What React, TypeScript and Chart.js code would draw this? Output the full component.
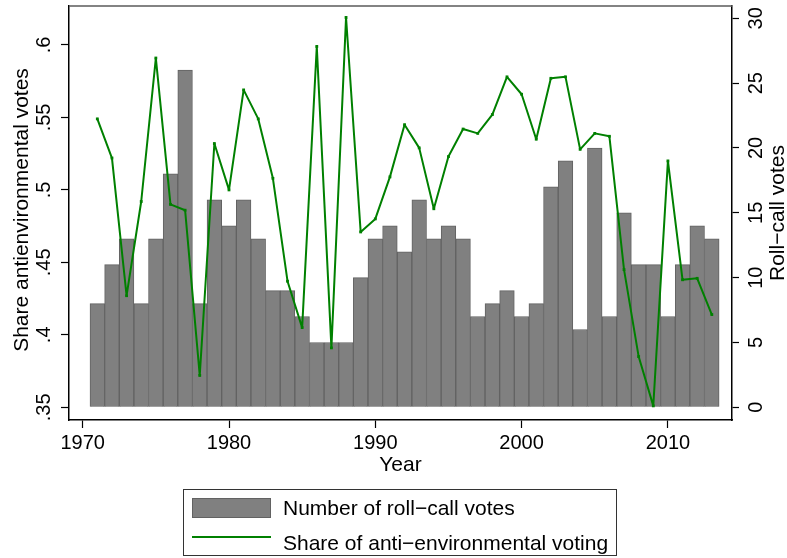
import React, { useEffect, useRef } from 'react';
import { Chart, registerables } from 'chart.js';

Chart.register(...registerables);

// ---------- data ----------
const years = [
  1971, 1972, 1973, 1974, 1975, 1976, 1977, 1978, 1979, 1980,
  1981, 1982, 1983, 1984, 1985, 1986, 1987, 1988, 1989, 1990,
  1991, 1992, 1993, 1994, 1995, 1996, 1997, 1998, 1999, 2000,
  2001, 2002, 2003, 2004, 2005, 2006, 2007, 2008, 2009, 2010,
  2011, 2012, 2013,
];

const rollCallVotes = [
  8, 11, 13, 8, 13, 18, 26, 8, 16, 14,
  16, 13, 9, 9, 7, 5, 5, 5, 10, 13,
  14, 12, 16, 13, 14, 13, 7, 8, 9, 7,
  8, 17, 19, 6, 20, 7, 15, 11, 11, 7,
  11, 14, 13,
];

const antiEnvShare = [
  0.549, 0.522, 0.427, 0.492, 0.591, 0.490, 0.486, 0.372, 0.532, 0.500,
  0.569, 0.549, 0.508, 0.437, 0.405, 0.599, 0.391, 0.619, 0.471, 0.480,
  0.509, 0.545, 0.529, 0.487, 0.523, 0.542, 0.539, 0.552, 0.578, 0.566,
  0.535, 0.577, 0.578, 0.528, 0.539, 0.537, 0.445, 0.385, 0.351, 0.520,
  0.438, 0.439, 0.414,
];

const leftTicks = [0.35, 0.4, 0.45, 0.5, 0.55, 0.6];
const rightTicks = [0, 5, 10, 15, 20, 25, 30];
const xTicks = [1970, 1980, 1990, 2000, 2010];

const barLabel = 'Number of roll\u2212call votes';
const lineLabel = 'Share of anti\u2212environmental voting';
const leftTitle = 'Share antienvironmental votes';
const rightTitle = 'Roll\u2212call votes';
const xTitle = 'Year';

const FONT = '"Liberation Sans", Arial, Helvetica, sans-serif';

const fmtShare = (v: number) => String(v).replace(/^0/, '');

const decorPlugin = {
  id: 'decor',
  afterDraw(chart: any) {
    const ctx = chart.ctx as CanvasRenderingContext2D;
    const { left, right, top } = chart.chartArea;
    const ys = chart.scales.y;
    const y1 = chart.scales.y1;
    ctx.save();

    // top frame line
    ctx.strokeStyle = '#5a5a5a';
    ctx.lineWidth = 1.5;
    ctx.beginPath();
    ctx.moveTo(left, top);
    ctx.lineTo(right, top);
    ctx.stroke();

    // rotated y tick labels
    ctx.fillStyle = '#000';
    ctx.textAlign = 'center';
    ctx.textBaseline = 'alphabetic';
    ctx.font = `20px ${FONT}`;
    ys.ticks.forEach((t: any) => {
      const py = ys.getPixelForValue(t.value);
      ctx.save();
      ctx.translate(ys.right - 19, py);
      ctx.rotate(-Math.PI / 2);
      ctx.fillText(fmtShare(t.value), 0, 0);
      ctx.restore();
    });
    y1.ticks.forEach((t: any) => {
      const py = y1.getPixelForValue(t.value);
      ctx.save();
      ctx.translate(y1.left + 30, py);
      ctx.rotate(-Math.PI / 2);
      ctx.fillText(String(t.value), 0, 0);
      ctx.restore();
    });

    // axis titles (both read bottom-to-top)
    const midY = (chart.chartArea.top + chart.chartArea.bottom) / 2;
    ctx.font = `21px ${FONT}`;
    ctx.save();
    ctx.translate(28, midY - 3);
    ctx.rotate(-Math.PI / 2);
    ctx.fillText(leftTitle, 0, 0);
    ctx.restore();
    ctx.save();
    ctx.translate(y1.left + 52, midY);
    ctx.rotate(-Math.PI / 2);
    ctx.fillText(rightTitle, 0, 0);
    ctx.restore();

    // legend box
    const ds = chart.data.datasets;
    ctx.strokeStyle = '#333';
    ctx.lineWidth = 1;
    ctx.strokeRect(183.5, 489.5, 433, 66);
    // bar swatch
    ctx.fillStyle = ds[0].backgroundColor;
    ctx.fillRect(192, 498, 79, 20);
    ctx.strokeStyle = ds[0].borderColor;
    ctx.strokeRect(192.5, 498.5, 78, 19);
    // line swatch
    ctx.strokeStyle = ds[1].borderColor;
    ctx.lineWidth = 2;
    ctx.beginPath();
    ctx.moveTo(192, 537);
    ctx.lineTo(271, 537);
    ctx.stroke();
    ctx.fillStyle = '#000';
    ctx.textAlign = 'left';
    ctx.font = `21px ${FONT}`;
    ctx.fillText(ds[0].label, 283, 515);
    ctx.fillText(ds[1].label, 283, 550);

    ctx.restore();
  },
};

export default function App() {
  const canvasRef = useRef<HTMLCanvasElement | null>(null);

  useEffect(() => {
    if (!canvasRef.current) return;
    const chart = new Chart(canvasRef.current, {
      type: 'bar',
      data: {
        datasets: [
          {
            type: 'bar',
            label: barLabel,
            data: years.map((x, i) => ({ x, y: rollCallVotes[i] })),
            yAxisID: 'y1',
            backgroundColor: '#808080',
            borderColor: '#626262',
            borderWidth: 1,
            categoryPercentage: 1,
            barPercentage: 1,
            order: 2,
          } as any,
          {
            type: 'line',
            label: lineLabel,
            data: years.map((x, i) => ({ x, y: antiEnvShare[i] })),
            yAxisID: 'y',
            borderColor: '#008000',
            backgroundColor: '#008000',
            borderWidth: 2,
            borderJoinStyle: 'round',
            borderCapStyle: 'round',
            pointStyle: 'rect',
            pointRadius: 2,
            pointBorderWidth: 0,
            pointBackgroundColor: '#008000',
            tension: 0,
            order: 1,
          } as any,
        ],
      },
      options: {
        responsive: false,
        animation: false,
        devicePixelRatio: 1,
        layout: { padding: { top: 6, bottom: 80, left: 0, right: 0 } },
        plugins: {
          legend: { display: false },
          tooltip: { enabled: false },
        },
        scales: {
          x: {
            type: 'linear',
            min: 1969.064,
            max: 2014.38,
            offset: false,
            afterBuildTicks: (s: any) => {
              s.ticks = xTicks.map((v) => ({ value: v }));
            },
            afterFit: (s: any) => {
              s.height = 58;
            },
            ticks: {
              color: '#000',
              font: { family: FONT, size: 20 },
              padding: 3,
              maxRotation: 0,
              callback: (v: any) => String(v),
            },
            grid: {
              display: true,
              offset: false,
              drawOnChartArea: false,
              drawTicks: true,
              tickLength: 8,
              tickColor: '#000',
              tickWidth: 1.2,
            },
            border: { display: true, color: '#000', width: 1.5 },
            title: {
              display: true,
              text: xTitle,
              color: '#000',
              font: { family: FONT, size: 21 },
              padding: { top: 0, bottom: 0 },
            },
          },
          y: {
            type: 'linear',
            position: 'left',
            min: 0.34124,
            max: 0.6269,
            afterBuildTicks: (s: any) => {
              s.ticks = leftTicks.map((v) => ({ value: v }));
            },
            afterFit: (s: any) => {
              s.width = 69;
            },
            ticks: { display: false },
            grid: {
              display: true,
              drawOnChartArea: false,
              drawTicks: true,
              tickLength: 8,
              tickColor: '#000',
              tickWidth: 1.2,
            },
            border: { display: true, color: '#000', width: 1.5 },
          },
          y1: {
            type: 'linear',
            position: 'right',
            min: -0.979,
            max: 30.95,
            afterBuildTicks: (s: any) => {
              s.ticks = rightTicks.map((v) => ({ value: v }));
            },
            afterFit: (s: any) => {
              s.width = 55;
            },
            ticks: { display: false },
            grid: {
              display: true,
              drawOnChartArea: false,
              drawTicks: true,
              tickLength: 7,
              tickColor: '#000',
              tickWidth: 1.2,
            },
            border: { display: true, color: '#000', width: 1.5 },
          },
        },
      } as any,
      plugins: [decorPlugin],
    });
    return () => chart.destroy();
  }, []);

  return (
    <div style={{ position: 'absolute', left: 0, top: 0, width: 787, height: 558, background: '#fff' }}>
      <canvas ref={canvasRef} width={787} height={558} style={{ display: 'block' }} />
    </div>
  );
}
